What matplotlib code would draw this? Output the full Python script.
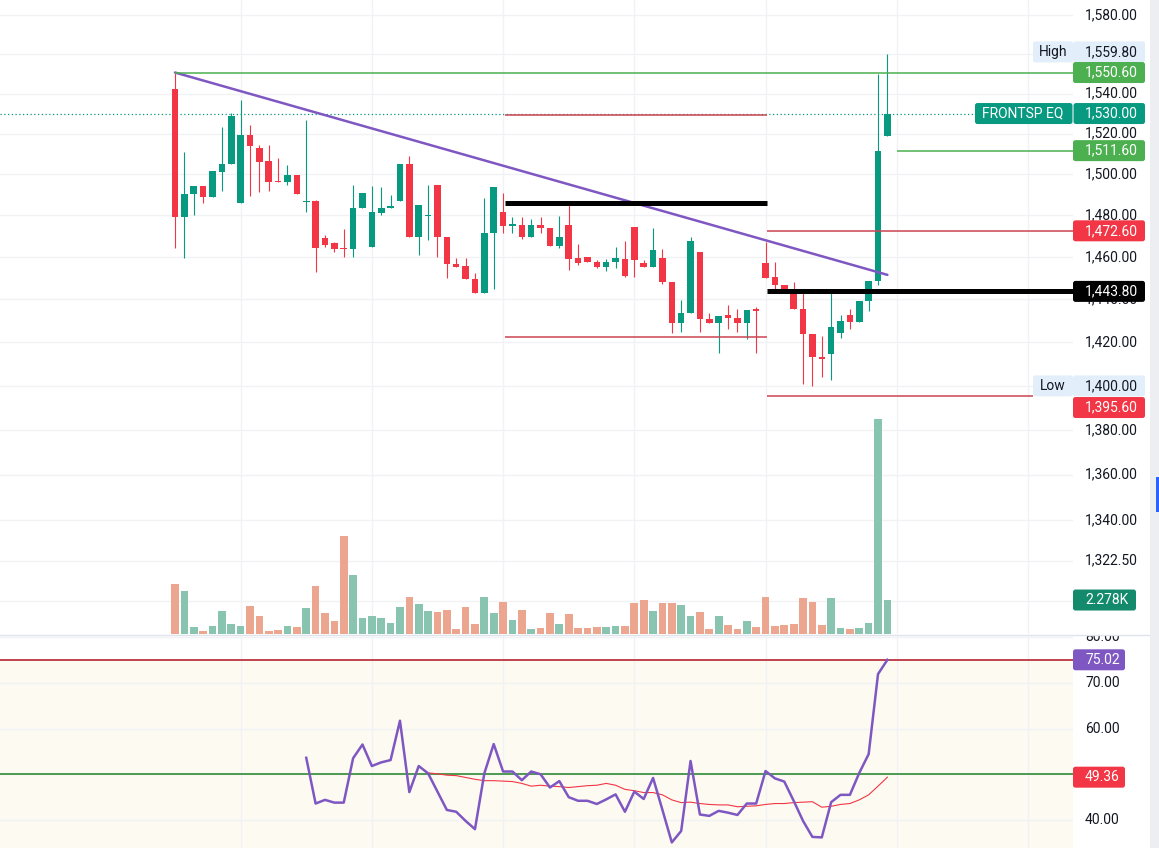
import matplotlib
matplotlib.use("Agg")
import matplotlib.pyplot as plt
import numpy as np
from matplotlib.patches import FancyBboxPatch, Rectangle
from matplotlib.lines import Line2D
from matplotlib.transforms import IdentityTransform, Bbox

plt.rcParams['font.family'] = ['Roboto', 'DejaVu Sans']

# daily candles
opens = [1542.3, 1479.4, 1490.6, 1494.2, 1489.0, 1501.1, 1505.2, 1486.2, 1519.3, 1512.8,
         1506.3, 1496.8, 1496.3, 1499.5, 1486.4, 1486.9, 1469.0, 1466.6, 1464.4, 1463.8,
         1483.4, 1464.7, 1481.3, 1483.4, 1487.1, 1505.2, 1469.5, 1479.5, 1494.7, 1469.5,
         1456.7, 1455.9, 1449.6, 1442.9, 1471.4, 1481.8, 1475.1, 1475.4, 1469.8, 1475.4,
         1474.1, 1465.5, 1475.4, 1459.5, 1460.3, 1457.8, 1455.5, 1457.9, 1459.2, 1474.3,
         1457.1, 1455.1, 1459.5, 1448.2, 1429.2, 1433.6, 1462.6, 1430.9, 1429.2, 1432.7,
         1431.5, 1429.2, 1435.3, 1457.1, 1450.5, 1446.9, 1444.8, 1435.4, 1423.8, 1413.2,
         1414.5, 1424.5, 1432.6, 1429.6, 1439.4, 1448.5, 1519.0]
highs = [1550.6, 1510.8, 1494.2, 1494.2, 1501.5, 1523.5, 1530.3, 1537.0, 1524.3, 1514.2,
         1514.2, 1507.9, 1504.4, 1499.5, 1526.8, 1487.7, 1470.5, 1467.2, 1473.3, 1494.7,
         1491.1, 1494.2, 1493.6, 1489.8, 1505.2, 1509.2, 1485.1, 1494.7, 1494.7, 1469.5,
         1459.5, 1459.5, 1452.4, 1488.2, 1493.6, 1491.1, 1479.1, 1479.1, 1478.1, 1479.1,
         1474.1, 1479.7, 1486.2, 1466.3, 1460.3, 1458.7, 1459.2, 1465.0, 1467.7, 1474.3,
         1458.7, 1473.8, 1463.8, 1448.2, 1439.8, 1469.5, 1462.6, 1433.6, 1432.4, 1437.4,
         1435.4, 1435.1, 1436.6, 1467.4, 1457.9, 1446.9, 1448.0, 1443.8, 1423.8, 1423.0,
         1443.3, 1432.7, 1435.4, 1439.4, 1448.8, 1550.0, 1559.8]
lows = [1464.5, 1459.8, 1480.0, 1485.8, 1489.0, 1491.9, 1505.2, 1486.2, 1489.6, 1491.2,
        1492.0, 1496.2, 1494.7, 1490.6, 1481.8, 1452.9, 1464.7, 1462.5, 1459.9, 1460.0,
        1483.4, 1464.7, 1480.3, 1483.4, 1487.1, 1469.5, 1461.1, 1468.2, 1460.0, 1450.0,
        1455.1, 1449.6, 1442.9, 1442.9, 1444.8, 1471.7, 1471.7, 1468.6, 1469.8, 1471.7,
        1465.5, 1464.5, 1454.0, 1456.3, 1457.6, 1454.8, 1453.6, 1454.8, 1450.5, 1450.8,
        1455.1, 1455.1, 1447.2, 1424.5, 1425.0, 1433.6, 1425.0, 1429.2, 1415.0, 1426.1,
        1425.0, 1421.4, 1415.0, 1450.3, 1444.8, 1444.2, 1435.4, 1400.9, 1400.0, 1404.0,
        1402.7, 1421.9, 1426.1, 1429.6, 1434.7, 1446.6, 1519.0]
closes = [1479.4, 1490.6, 1494.2, 1489.0, 1501.5, 1505.2, 1528.8, 1519.3, 1514.1, 1506.0,
          1496.3, 1496.2, 1499.5, 1490.6, 1486.8, 1464.5, 1465.8, 1463.9, 1463.9, 1483.4,
          1491.1, 1481.8, 1483.4, 1484.5, 1505.2, 1469.5, 1485.1, 1480.0, 1469.5, 1456.7,
          1455.1, 1449.6, 1442.9, 1471.4, 1493.6, 1474.9, 1475.6, 1469.8, 1475.4, 1473.8,
          1465.5, 1469.5, 1459.2, 1457.4, 1457.6, 1455.5, 1457.9, 1459.5, 1451.3, 1458.7,
          1455.1, 1463.4, 1448.0, 1429.2, 1433.6, 1467.7, 1430.9, 1429.2, 1432.4, 1431.2,
          1429.2, 1435.1, 1434.8, 1450.3, 1446.6, 1444.2, 1435.4, 1423.8, 1413.2, 1412.2,
          1427.0, 1430.0, 1429.6, 1439.4, 1448.8, 1511.6, 1530.0]
volumes = [3330, 2880, 470, 200, 540, 1540, 670, 540, 1880, 1210,
           200, 270, 540, 470, 1740, 3220, 1410, 870, 6570, 3950,
           1070, 1210, 1070, 740, 1810, 2480, 2010, 1540, 1470, 1610,
           340, 1810, 670, 2480, 1410, 2140, 940, 1610, 340, 400,
           1410, 670, 1340, 400, 400, 470, 470, 540, 540, 2080,
           2280, 1540, 2080, 2080, 1940, 1210, 1470, 340, 1210, 600,
           340, 870, 470, 2480, 540, 600, 670, 2410, 2140, 600,
           2410, 400, 340, 400, 740, 14400, 2278]
# RSI starts at the 15th candle, its moving average at the 28th
rsi = [53.6, 43.6, 44.4, 43.8, 43.8, 53.5, 56.5, 51.8, 52.6, 53.1,
       61.7, 46.1, 51.8, 50.2, 46.2, 42.2, 41.8, 39.8, 38.0, 50.2,
       56.6, 50.6, 50.6, 48.7, 50.6, 50.0, 47.1, 48.5, 45.0, 44.2,
       44.2, 43.5, 44.5, 45.6, 41.8, 46.2, 44.6, 49.2, 42.2, 35.1,
       37.6, 52.9, 41.2, 40.9, 42.0, 41.6, 41.1, 43.6, 43.6, 50.7,
       49.1, 48.4, 44.2, 39.8, 36.3, 36.2, 43.9, 45.5, 45.5, 50.3,
       54.4, 71.9, 75.02]
rsi_ma = [50.3, 50.1, 49.8, 49.7, 49.3, 48.9, 48.6, 48.6, 48.5, 48.4,
          48.0, 47.4, 47.6, 47.4, 47.3, 47.1, 47.3, 47.5, 47.6, 48.0,
          47.6, 46.7, 46.4, 46.0, 46.0, 45.5, 44.4, 43.8, 43.9, 43.6,
          43.4, 43.3, 43.3, 42.9, 43.0, 43.1, 43.4, 43.6, 43.6, 43.8,
          43.9, 44.0, 42.8, 43.0, 43.4, 43.6, 44.4, 45.5, 47.4, 49.36]

price_ticks = [1580, 1560, 1540, 1520, 1500, 1480, 1460, 1440, 1420, 1400,
               1380, 1360, 1340, 1322.5, 1305]
hidden_price_labels = [1560, 1400, 1305]   # covered by the value tags
rsi_ticks = [80, 70, 60, 50, 40]
rsi_labels = [80, 70, 60, 40]
grid_idx = [7, 21, 35, 49, 63, 77, 91]

trend_idx = [0, 76]
trend_price = [1550.6, 1451.6]
level_prices = [1550.6, 1529.5, 1486.0, 1422.5, 1472.6, 1443.8, 1395.6, 1511.6]
last_price = 1530.0
high_price = 1559.8
low_price = 1400.0
rsi_upper = 75
rsi_mid = 50
symbol = 'FRONTSP EQ'

GREEN = '#089981'
RED = '#f23645'
TXT = '#131722'
GRID = '#f0f2f6'
LIGHT = '#e3eefb'

W, H = 1159, 848
R = 1073  # right edge of the plot area in pixels
XLIM = (-18.67, 95.8)

fig = plt.figure(figsize=(W / 100, H / 100), dpi=100)
fig.patch.set_facecolor('white')
rect_main = [0, 1 - 634 / H, R / W, 634 / H]
ax = fig.add_axes(rect_main)
axv = fig.add_axes(rect_main, sharex=ax)
axr = fig.add_axes([0, 0, R / W, 213 / H], sharex=ax)


def clean(a):
    for s in a.spines.values():
        s.set_visible(False)
    a.tick_params(which='both', left=False, right=False, bottom=False, top=False,
                  labelleft=False, labelbottom=False)


for a in (ax, axv, axr):
    clean(a)

ax.set_yscale('log')
ax.set_ylim(1291.2, 1587.7)
ax.set_xlim(*XLIM)
axv.set_ylim(0, 42500)
axv.patch.set_alpha(0)
axv.set_zorder(ax.get_zorder() + 1)
axr.set_ylim(33.88, 80.44)

o = np.array(opens)
h = np.array(highs)
l = np.array(lows)
c = np.array(closes)
idx = np.arange(len(o))
up = c >= o
col = np.where(up, GREEN, RED)

# grid
for t in price_ticks:
    ax.axhline(t, color=GRID, lw=1, zorder=0)
for g in grid_idx:
    ax.axvline(g, color=GRID, lw=1, zorder=0)
    axr.axvline(g, color=GRID, lw=1, zorder=1)
for t in rsi_ticks:
    axr.axhline(t, color=GRID, lw=1, zorder=1)

# candles
ax.vlines(idx, l, h, colors=col, lw=0.8, zorder=3)
body_low = np.minimum(o, c)
body_h = np.maximum(np.abs(c - o), 0.6)
ax.bar(idx, body_h, bottom=body_low, width=0.7, color=col, lw=0, zorder=4)

# volume overlay
vcol = np.where(up, '#88c4b0', '#eca68f')
axv.bar(idx, volumes, width=0.82, color=vcol, lw=0)

# drawings
ax.axhline(last_price, color=GREEN, lw=0.9, ls=(0, (1, 2)), zorder=2)
ax.plot(trend_idx, trend_price, color='#7e57c2', lw=1.8, zorder=5, solid_capstyle='round')
spans = [(0, XLIM[1]), (35.2, 63.2), (35.2, 63.2), (35.2, 63.2),
         (63.2, XLIM[1]), (63.2, XLIM[1]), (63.2, 91.5), (77.0, XLIM[1])]
styles = [('#4caf50', 1.1), ('#cc4452', 1.1), ('black', 3.6), ('#cc4452', 1.1),
          ('#cc4452', 1.1), ('black', 3.6), ('#cc4452', 1.1), ('#4caf50', 1.1)]
for p, (x0, x1), (clr, lw) in zip(level_prices, spans, styles):
    ax.plot([x0, x1], [p, p], color=clr, lw=lw, zorder=6, solid_capstyle='butt')

# RSI pane
axr.set_facecolor('white')
axr.axhspan(33.88, rsi_upper, color='#fdfbf1', zorder=0, lw=0)
axr.axhline(rsi_upper, color='#c0434f', lw=1.4, zorder=2)
axr.axhline(rsi_mid, color='#4c9a50', lw=1.4, zorder=2)
axr.plot(idx[14:], rsi, color='#7e57c2', lw=1.8, zorder=4)
axr.plot(idx[27:], rsi_ma, color=RED, lw=0.8, zorder=3)

ID = IdentityTransform()


def ypix(a, v):
    return a.transData.transform((0, v))[1]


def label(x, y, s, color=TXT, ha='left', z=2):
    return fig.text(x, y, s, transform=ID, ha=ha, va='center', fontsize=10,
                    color=color, zorder=z)


def tag(yd, s, fc, tc='white', x0=R, x1=1145, tx=1085, ha='left'):
    fig.add_artist(FancyBboxPatch((x0, yd - 10.5), x1 - x0, 21,
                                  boxstyle='round,pad=0,rounding_size=2.5',
                                  transform=ID, fc=fc, ec='none', zorder=5))
    label(tx, yd, s, color=tc, ha=ha, z=6)


for t in price_ticks:
    if t not in hidden_price_labels:
        label(1085, ypix(ax, t), f'{t:,.2f}')
clip = Bbox([[R, 0], [1150, H - 635]])
for t in rsi_labels:
    txt = label(1085, ypix(axr, t), f'{t:.2f}')
    txt.set_clip_box(clip)
    txt.set_clip_on(True)

yd_high = ypix(ax, high_price) + 2.5
tag(yd_high, 'High', LIGHT, TXT, x0=1033, x1=R, tx=1053, ha='center')
tag(yd_high, f'{high_price:,.2f}', LIGHT, TXT)
tag(ypix(ax, level_prices[0]), f'{level_prices[0]:,.2f}', '#4caf50')
yd_last = ypix(ax, last_price)
tag(yd_last, symbol, GREEN, x0=975, x1=R - 0.5, tx=1023, ha='center')
tag(yd_last, f'{last_price:,.2f}', GREEN, x0=R + 0.5)
tag(ypix(ax, level_prices[7]), f'{level_prices[7]:,.2f}', '#4caf50')
tag(ypix(ax, level_prices[4]), f'{level_prices[4]:,.2f}', RED)
tag(ypix(ax, level_prices[5]), f'{level_prices[5]:,.2f}', 'black')
yd_low = ypix(ax, low_price)
tag(yd_low, 'Low', LIGHT, TXT, x0=1033, x1=R, tx=1053, ha='center')
tag(yd_low, f'{low_price:,.2f}', LIGHT, TXT)
tag(ypix(ax, level_prices[6]) - 12, f'{level_prices[6]:,.2f}', RED)
tag(ypix(axv, volumes[-1]), f'{volumes[-1] / 1000:.3f}K', '#138a6c', x1=1136)
tag(ypix(axr, rsi[-1]), f'{rsi[-1]:.2f}', '#7e57c2', x1=1125)
tag(ypix(axr, rsi_ma[-1]), f'{rsi_ma[-1]:.2f}', RED, x1=1125)

# pane separator and right scroll strip
fig.add_artist(Line2D([0, 1150], [H - 634.5, H - 634.5], transform=ID,
                      color='#e0e3eb', lw=1, zorder=4))
fig.add_artist(Rectangle((1150, 0), 9, H, transform=ID, fc='#eceef2', ec='none', zorder=4))
fig.add_artist(Rectangle((1156, H - 512), 3, 35, transform=ID, fc='#2962ff', ec='none', zorder=5))

fig.savefig('out.png', dpi=100)
